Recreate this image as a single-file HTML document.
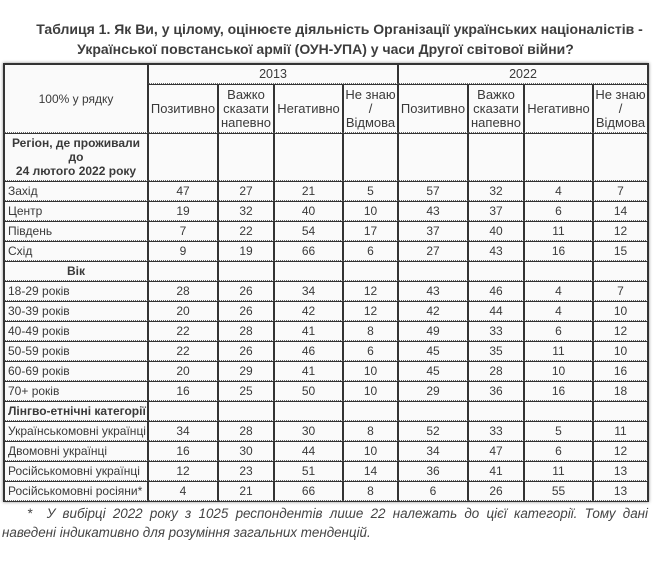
<!DOCTYPE html>
<html>
<head>
<meta charset="utf-8">
<style>
html,body{margin:0;padding:0;background:#fff;}
body{width:655px;height:569px;position:relative;overflow:hidden;font-family:"Liberation Sans",Arial,"Noto Sans CJK SC",sans-serif;color:#333;}
.t1{position:absolute;top:19px;left:0;width:679px;text-align:center;font-weight:bold;font-size:14px;line-height:20px;color:#3d3d3d;white-space:nowrap;}
.t2{position:absolute;top:39px;left:0;width:651px;text-align:center;font-weight:bold;font-size:14px;line-height:20px;color:#3d3d3d;white-space:nowrap;}
table{position:absolute;left:3px;top:63px;width:646px;table-layout:fixed;border-collapse:separate;border-spacing:0;border:1px solid #333;box-shadow:0 0 3px #888;background:#fafafa;}
td{border-left:1px solid #333;border-right:1px solid #333;border-top:1px solid #333;border-bottom:1px dotted #666;padding:0 2px;font-size:12px;line-height:14px;text-align:center;vertical-align:middle;white-space:nowrap;overflow:hidden;color:#3a3a3a;}
td.l{text-align:left;padding-left:3px;}
td.b{font-weight:bold;}
td.h{font-size:13px;padding:0;}
td.y{font-size:12.5px;}
tr{height:20px;}
.foot{position:absolute;left:2px;top:504px;width:646px;font-size:13.4px;line-height:19px;font-style:italic;color:#444;text-align:justify;text-indent:25px;}
</style>
</head>
<body>
<div class="t1">Таблиця 1. Як Ви, у цілому, оцінюєте діяльність Організації українських націоналістів -</div>
<div class="t2">Української повстанської армії (ОУН-УПА) у часи Другої світової війни?</div>
<table>
<colgroup>
<col style="width:144px"><col style="width:70px"><col style="width:56px"><col style="width:69px"><col style="width:55px"><col style="width:70px"><col style="width:56px"><col style="width:69px"><col style="width:55px">
</colgroup>
<tr style="height:20px"><td rowspan="2">100% у рядку</td><td colspan="4" class="y">2013</td><td colspan="4" class="y">2022</td></tr>
<tr style="height:49px"><td class="h">Позитивно</td><td class="h">Важко<br>сказати<br>напевно</td><td class="h">Негативно</td><td class="h">Не знаю<br>/<br>Відмова</td><td class="h">Позитивно</td><td class="h">Важко<br>сказати<br>напевно</td><td class="h">Негативно</td><td class="h">Не знаю<br>/<br>Відмова</td></tr>
<tr style="height:48px"><td class="b">Регіон, де проживали<br>до<br>24 лютого 2022 року</td><td></td><td></td><td></td><td></td><td></td><td></td><td></td><td></td></tr>
<tr><td class="l">Захід</td><td>47</td><td>27</td><td>21</td><td>5</td><td>57</td><td>32</td><td>4</td><td>7</td></tr>
<tr><td class="l">Центр</td><td>19</td><td>32</td><td>40</td><td>10</td><td>43</td><td>37</td><td>6</td><td>14</td></tr>
<tr><td class="l">Південь</td><td>7</td><td>22</td><td>54</td><td>17</td><td>37</td><td>40</td><td>11</td><td>12</td></tr>
<tr><td class="l">Схід</td><td>9</td><td>19</td><td>66</td><td>6</td><td>27</td><td>43</td><td>16</td><td>15</td></tr>
<tr><td class="b">Вік</td><td></td><td></td><td></td><td></td><td></td><td></td><td></td><td></td></tr>
<tr><td class="l">18-29 років</td><td>28</td><td>26</td><td>34</td><td>12</td><td>43</td><td>46</td><td>4</td><td>7</td></tr>
<tr><td class="l">30-39 років</td><td>20</td><td>26</td><td>42</td><td>12</td><td>42</td><td>44</td><td>4</td><td>10</td></tr>
<tr><td class="l">40-49 років</td><td>22</td><td>28</td><td>41</td><td>8</td><td>49</td><td>33</td><td>6</td><td>12</td></tr>
<tr><td class="l">50-59 років</td><td>22</td><td>26</td><td>46</td><td>6</td><td>45</td><td>35</td><td>11</td><td>10</td></tr>
<tr><td class="l">60-69 років</td><td>20</td><td>29</td><td>41</td><td>10</td><td>45</td><td>28</td><td>10</td><td>16</td></tr>
<tr><td class="l">70+ років</td><td>16</td><td>25</td><td>50</td><td>10</td><td>29</td><td>36</td><td>16</td><td>18</td></tr>
<tr><td class="l b">Лінгво-етнічні категорії</td><td></td><td></td><td></td><td></td><td></td><td></td><td></td><td></td></tr>
<tr><td class="l">Українськомовні українці</td><td>34</td><td>28</td><td>30</td><td>8</td><td>52</td><td>33</td><td>5</td><td>11</td></tr>
<tr><td class="l">Двомовні українці</td><td>16</td><td>30</td><td>44</td><td>10</td><td>34</td><td>47</td><td>6</td><td>12</td></tr>
<tr><td class="l">Російськомовні українці</td><td>12</td><td>23</td><td>51</td><td>14</td><td>36</td><td>41</td><td>11</td><td>13</td></tr>
<tr><td class="l">Російськомовні росіяни*</td><td>4</td><td>21</td><td>66</td><td>8</td><td>6</td><td>26</td><td>55</td><td>13</td></tr>
</table>
<div class="foot">*&nbsp; У вибірці 2022 року з 1025 респондентів лише 22 належать до цієї категорії. Тому дані наведені індикативно для розуміння загальних тенденцій.</div>
</body>
</html>
